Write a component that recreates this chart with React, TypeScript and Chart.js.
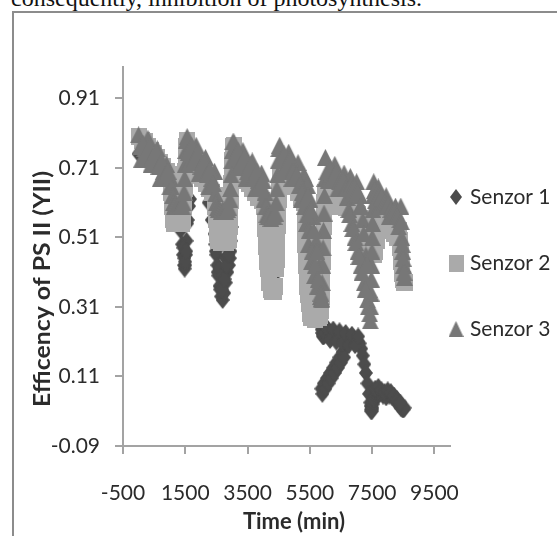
import React, { useEffect, useRef } from "react";
import { Chart, registerables } from "chart.js";

Chart.register(...registerables);

// ---------- data (time in minutes, efficiency of PS II) ----------
const times = [
  // day 1
  0, 100, 200, 300, 400, 500, 600, 700, 800, 900, 1000,
  1030, 1060, 1090, 1120, 1150, 1200, 1250, 1300, 1350, 1400, 1430, 1460, 1480, 1500, 1520, 1540,
  // day 2
  1560, 1650, 1750, 1850, 1950, 2050, 2150, 2250, 2350, 2440,
  2470, 2500, 2530, 2560, 2600, 2650, 2700, 2750, 2800, 2850, 2900, 2930, 2950, 2970, 2990, 3010, 3030,
  // day 3
  3060, 3150, 3250, 3350, 3450, 3550, 3650, 3750, 3850, 3950, 4030,
  4060, 4090, 4120, 4150, 4200, 4250, 4300, 4350, 4390, 4420, 4440, 4460, 4480, 4500,
  // day 4
  4530, 4620, 4720, 4820, 4920, 5020, 5120, 5220, 5300,
  5330, 5360, 5390, 5420, 5460, 5500, 5550, 5600, 5650, 5700, 5750, 5800, 5840, 5870,
  5880, 5895, 5910, 5925, 5940, 5955, 5970, 5985,
  // day 5
  6000, 6100, 6200, 6300, 6400, 6500, 6600, 6700,
  6750, 6800, 6850, 6900, 6950, 7000, 7050, 7100, 7150, 7200, 7250, 7300, 7350, 7400, 7440,
  7455, 7465, 7475, 7485, 7495, 7505, 7515, 7525, 7535,
  // day 6
  7550, 7600, 7650, 7700, 7750, 7850, 7950, 8050, 8150, 8250, 8350,
  8390, 8420, 8450, 8480, 8510, 8540,
];

const senzor1 = [
  0.75, 0.765, 0.77, 0.765, 0.755, 0.745, 0.735, 0.72, 0.71, 0.695, 0.68,
  0.66, 0.64, 0.62, 0.6, 0.585, 0.57, 0.56, 0.555, 0.53, 0.49, 0.46, 0.43, 0.42, 0.43, 0.46, 0.5,
  0.55, 0.62, 0.69, 0.72, 0.71, 0.69, 0.66, 0.61, 0.56, 0.52,
  0.49, 0.46, 0.43, 0.4, 0.37, 0.34, 0.33, 0.35, 0.38, 0.41, 0.43, 0.45, 0.47, 0.5, 0.54, 0.6, 0.66,
  0.72, 0.7, 0.695, 0.685, 0.67, 0.66, 0.645, 0.635, 0.62, 0.61, 0.6,
  0.58, 0.53, 0.48, 0.44, 0.4, 0.38, 0.375, 0.375, 0.385, 0.43, 0.48, 0.53, 0.58, 0.63,
  0.68, 0.7, 0.69, 0.68, 0.67, 0.655, 0.64, 0.625, 0.605,
  0.56, 0.5, 0.44, 0.38, 0.33, 0.3, 0.29, 0.29, 0.285, 0.29, 0.29, 0.285, 0.27, 0.255,
  0.245, 0.235, 0.23, 0.225, 0.225, 0.23, 0.23, 0.235,
  0.235, 0.24, 0.235, 0.23, 0.23, 0.225, 0.225, 0.22,
  0.215, 0.22, 0.215, 0.22, 0.215, 0.21, 0.21, 0.205, 0.19, 0.17, 0.145, 0.12, 0.09, 0.06, 0.035,
  0.025, 0.015, 0.01, 0.01, 0.015, 0.02, 0.03, 0.035, 0.04,
  0.045, 0.055, 0.06, 0.06, 0.06, 0.055, 0.05, 0.055, 0.05, 0.04, 0.03,
  0.025, 0.02, 0.02, 0.015, 0.015, 0.02,
];

const senzor2 = [
  0.8, 0.79, 0.785, 0.77, 0.76, 0.75, 0.74, 0.725, 0.715, 0.7, 0.69,
  0.66, 0.62, 0.585, 0.56, 0.55, 0.555, 0.55, 0.55, 0.555, 0.55, 0.56, 0.6, 0.65, 0.7, 0.75, 0.785,
  0.79, 0.725, 0.715, 0.705, 0.69, 0.68, 0.665, 0.65, 0.64, 0.63,
  0.6, 0.56, 0.52, 0.5, 0.5, 0.495, 0.5, 0.5, 0.495, 0.5, 0.505, 0.54, 0.59, 0.64, 0.69, 0.73, 0.77,
  0.775, 0.71, 0.7, 0.69, 0.675, 0.665, 0.65, 0.64, 0.625, 0.615, 0.6,
  0.56, 0.51, 0.46, 0.42, 0.38, 0.36, 0.355, 0.355, 0.37, 0.42, 0.47, 0.52, 0.57, 0.62,
  0.69, 0.7, 0.69, 0.68, 0.67, 0.655, 0.64, 0.625, 0.61,
  0.55, 0.49, 0.43, 0.37, 0.32, 0.29, 0.28, 0.28, 0.275, 0.28, 0.28, 0.28, 0.285, 0.3,
  0.34, 0.39, 0.44, 0.49, 0.54, 0.58, 0.61, 0.63,
  0.64, 0.635, 0.63, 0.625, 0.62, 0.615, 0.61, 0.605,
  0.6, 0.6, 0.595, 0.59, 0.585, 0.58, 0.575, 0.565, 0.555, 0.545, 0.53, 0.515, 0.5, 0.49, 0.48,
  0.475, 0.47, 0.47, 0.465, 0.465, 0.46, 0.46, 0.46, 0.46,
  0.46, 0.47, 0.5, 0.54, 0.57, 0.565, 0.56, 0.555, 0.55, 0.54, 0.53,
  0.5, 0.46, 0.42, 0.39, 0.38, 0.38,
];

const senzor3 = [
  0.805, 0.735, 0.765, 0.795, 0.72, 0.745, 0.765, 0.68, 0.7, 0.72, 0.655,
  0.68, 0.655, 0.63, 0.61, 0.6, 0.605, 0.6, 0.6, 0.605, 0.6, 0.61, 0.64, 0.68, 0.72, 0.76, 0.79,
  0.8, 0.725, 0.75, 0.775, 0.695, 0.715, 0.74, 0.655, 0.68, 0.7,
  0.635, 0.61, 0.595, 0.59, 0.59, 0.585, 0.59, 0.59, 0.585, 0.59, 0.595, 0.62, 0.65, 0.69, 0.73, 0.76, 0.785,
  0.785, 0.71, 0.735, 0.76, 0.68, 0.705, 0.73, 0.65, 0.675, 0.695, 0.62,
  0.64, 0.6, 0.575, 0.57, 0.57, 0.565, 0.57, 0.57, 0.58, 0.61, 0.65, 0.69, 0.73, 0.765,
  0.775, 0.7, 0.73, 0.755, 0.68, 0.705, 0.725, 0.62, 0.69,
  0.6, 0.68, 0.55, 0.66, 0.49, 0.62, 0.44, 0.57, 0.4, 0.5, 0.37, 0.43, 0.34, 0.335,
  0.33, 0.38, 0.43, 0.48, 0.53, 0.58, 0.63, 0.68,
  0.74, 0.675, 0.695, 0.72, 0.65, 0.67, 0.695, 0.625,
  0.59, 0.685, 0.55, 0.645, 0.51, 0.67, 0.47, 0.63, 0.43, 0.56, 0.38, 0.46, 0.33, 0.36, 0.27,
  0.31, 0.35, 0.39, 0.43, 0.47, 0.51, 0.55, 0.59, 0.63,
  0.67, 0.615, 0.635, 0.655, 0.6, 0.615, 0.63, 0.57, 0.585, 0.6, 0.54,
  0.56, 0.6, 0.51, 0.47, 0.43, 0.395,
];

// additional readings (the sensors logged more often than the main grid above)
const senzor1ExtraTimes = [
  5870, 5950, 6050, 6150, 6250, 6350, 6450, 6550,
  5900, 6000, 6100, 6200, 6300, 6400, 6500, 6600,
  6050, 6150, 6250, 6350, 6450, 6550, 6650, 6750, 6850, 6950, 7050,
  7600, 7700, 7800, 7900, 8000, 8100, 8200, 8300, 8400,
  1440, 1470, 1495, 1530, 1580, 1620,
  2480, 2540, 2600, 2620, 2680, 2700, 2760, 2800, 2830, 2880, 2940,
];
const senzor1ExtraValues = [
  0.075, 0.09, 0.105, 0.12, 0.135, 0.15, 0.165, 0.18,
  0.06, 0.075, 0.09, 0.105, 0.12, 0.135, 0.15, 0.165,
  0.25, 0.215, 0.245, 0.21, 0.24, 0.205, 0.235, 0.2, 0.23, 0.2, 0.225,
  0.075, 0.08, 0.07, 0.065, 0.07, 0.065, 0.055, 0.045, 0.035,
  0.48, 0.45, 0.44, 0.47, 0.56, 0.6,
  0.47, 0.41, 0.42, 0.36, 0.36, 0.4, 0.39, 0.45, 0.43, 0.46, 0.49,
];

const senzor2ExtraTimes = [
  1045, 1075, 1470, 1490, 1510, 1530,
  2485, 2515, 2940, 2960, 2980, 3000,
  4075, 4105, 4135, 4175, 4430, 4450, 4470, 4490, 4515,
  5345, 5375, 5405, 5440, 5888, 5903, 5918, 5933, 5948,
  6050, 6150, 6250, 6350, 6450, 6550, 6650,
  7800, 7900, 8000, 8100, 8200, 8300,
  8405, 8435, 8465,
];
const senzor2ExtraValues = [
  0.64, 0.6, 0.625, 0.675, 0.725, 0.77,
  0.58, 0.54, 0.565, 0.615, 0.665, 0.71,
  0.535, 0.485, 0.44, 0.4, 0.445, 0.495, 0.545, 0.595, 0.65,
  0.52, 0.46, 0.4, 0.345, 0.365, 0.415, 0.465, 0.515, 0.56,
  0.615, 0.635, 0.605, 0.625, 0.6, 0.615, 0.595,
  0.545, 0.54, 0.535, 0.53, 0.52, 0.51,
  0.48, 0.44, 0.405,
];

const senzor3ExtraTimes = [
  50, 150, 250, 350, 450, 550, 650, 750, 850, 950,
  1600, 1700, 1800, 1900, 2000, 2100, 2200, 2300, 2400,
  3100, 3200, 3300, 3400, 3500, 3600, 3700, 3800, 3900, 4000,
  4570, 4670, 4770, 4870, 4970, 5070, 5170, 5260,
  5345, 5405, 5440, 5480, 5525, 5575, 5625, 5675, 5725, 5775, 5855,
  6050, 6150, 6250, 6350, 6450, 6550, 6650,
  6775, 6825, 6875, 6925, 6975, 7025, 7075, 7125, 7175, 7225, 7275, 7325, 7375, 7420,
  7575, 7675, 7725, 7800, 7900, 8000, 8100, 8200, 8300,
  8435, 8465, 8495, 8525,
];
const senzor3ExtraValues = [
  0.77, 0.78, 0.75, 0.77, 0.74, 0.755, 0.715, 0.73, 0.69, 0.7,
  0.755, 0.775, 0.735, 0.755, 0.715, 0.73, 0.69, 0.705, 0.665,
  0.74, 0.76, 0.72, 0.74, 0.7, 0.72, 0.68, 0.7, 0.66, 0.675,
  0.735, 0.75, 0.715, 0.735, 0.7, 0.69, 0.66, 0.64,
  0.62, 0.575, 0.63, 0.53, 0.59, 0.47, 0.53, 0.43, 0.47, 0.39, 0.35,
  0.7, 0.71, 0.685, 0.695, 0.67, 0.675, 0.65,
  0.575, 0.66, 0.535, 0.655, 0.495, 0.64, 0.455, 0.6, 0.41, 0.52, 0.36, 0.43, 0.31, 0.29,
  0.645, 0.64, 0.63, 0.625, 0.61, 0.605, 0.59, 0.585, 0.57,
  0.555, 0.49, 0.45, 0.41,
];

const seriesLabels = ["Senzor 1", "Senzor 2", "Senzor 3"];
const seriesColors = ["#4c4c4c", "#aaaaaa", "#777777"];
const xTicks = [-500, 1500, 3500, 5500, 7500, 9500];
const yTicks = [-0.09, 0.11, 0.31, 0.51, 0.71, 0.91];
const xTitle = "Time (min)";
const yTitle = "Efficency of PS II (YII)";
const pageText = "consequently, inhibition of photosynthesis.";

function zip(ts: number[], vs: number[]) {
  return ts.map((t, i) => ({ x: t, y: vs[i] }));
}

function makeMarker(shape: string, w: number, h: number, color: string) {
  const c = document.createElement("canvas");
  c.width = w;
  c.height = h;
  const ctx = c.getContext("2d")!;
  ctx.fillStyle = color;
  ctx.beginPath();
  if (shape === "diamond") {
    ctx.moveTo(w / 2, 0);
    ctx.lineTo(w, h / 2);
    ctx.lineTo(w / 2, h);
    ctx.lineTo(0, h / 2);
  } else if (shape === "square") {
    ctx.rect(0, 0, w, h);
  } else {
    ctx.moveTo(w / 2, 0);
    ctx.lineTo(w, h);
    ctx.lineTo(0, h);
  }
  ctx.closePath();
  ctx.fill();
  return c;
}

export default function App() {
  const ref = useRef<HTMLCanvasElement>(null);

  useEffect(() => {
    const canvas = ref.current;
    if (!canvas) return;

    const markers = [
      makeMarker("diamond", 14, 18, seriesColors[0]),
      makeMarker("square", 16, 17, seriesColors[1]),
      makeMarker("triangle", 17, 17, seriesColors[2]),
    ];
    const legendMarkers = [
      makeMarker("diamond", 12, 16, seriesColors[0]),
      makeMarker("square", 15, 17, seriesColors[1]),
      makeMarker("triangle", 15, 16, seriesColors[2]),
    ];

    const s1 = zip(times, senzor1).concat(zip(senzor1ExtraTimes, senzor1ExtraValues));
    const s2 = zip(times, senzor2).concat(zip(senzor2ExtraTimes, senzor2ExtraValues));
    const s3 = zip(times, senzor3).concat(zip(senzor3ExtraTimes, senzor3ExtraValues));

    const textColor = "#2b2b2b";
    const axisColor = "#a3a3a3";

    const decor = {
      id: "decor",
      afterDraw(chart: any) {
        const ctx = chart.ctx as CanvasRenderingContext2D;
        const a = chart.chartArea;
        ctx.save();
        ctx.fillStyle = textColor;
        ctx.textBaseline = "middle";

        // x axis title
        ctx.font = "bold 22px Lato";
        ctx.textAlign = "center";
        ctx.fillText(xTitle, a.left + 171, a.bottom + 76);

        // y axis title (rotated)
        ctx.save();
        ctx.translate(a.left - 80, a.top + 222);
        ctx.rotate(-Math.PI / 2);
        const w = ctx.measureText(yTitle).width;
        ctx.scale(236 / w, 1);
        ctx.fillText(yTitle, 0, 0);
        ctx.restore();

        // legend
        ctx.font = "21px Lato";
        ctx.textAlign = "left";
        chart.data.datasets.forEach((ds: any, i: number) => {
          const cy = a.top + 130 + i * 66;
          const m = legendMarkers[i];
          ctx.drawImage(m, a.right + 6 - m.width / 2, cy - m.height / 2);
          ctx.fillStyle = textColor;
          ctx.fillText(ds.label, a.right + 20, cy);
        });
        ctx.restore();
      },
    };

    const tickFont = { family: "Lato", size: 21 };

    const chart = new Chart(canvas, {
      type: "scatter",
      data: {
        datasets: [
          { label: seriesLabels[0], data: s1, pointStyle: markers[0] as any, pointRadius: 7, backgroundColor: seriesColors[0], order: 3 },
          { label: seriesLabels[1], data: s2, pointStyle: markers[1] as any, pointRadius: 7, backgroundColor: seriesColors[1], order: 2 },
          { label: seriesLabels[2], data: s3, pointStyle: markers[2] as any, pointRadius: 7, backgroundColor: seriesColors[2], order: 1 },
        ],
      },
      options: {
        responsive: false,
        animation: false,
        devicePixelRatio: 1,
        events: [],
        layout: { padding: { left: 0, top: 54, right: 107, bottom: 0 } },
        plugins: { legend: { display: false }, tooltip: { enabled: false } },
        scales: {
          x: {
            type: "linear",
            min: -500,
            max: 10000,
            afterBuildTicks: (s: any) => {
              s.ticks = xTicks.map((v) => ({ value: v }));
            },
            afterFit: (s: any) => {
              s.height = 90;
            },
            ticks: {
              font: tickFont,
              color: textColor,
              padding: 27,
              maxRotation: 0,
              autoSkip: false,
              callback: (v: any) => String(v),
            },
            grid: { drawOnChartArea: false, drawTicks: true, tickLength: 8, color: axisColor, lineWidth: 2 },
            border: { display: true, color: axisColor, width: 2 },
          },
          y: {
            type: "linear",
            min: -0.09,
            max: 1.0,
            afterBuildTicks: (s: any) => {
              s.ticks = yTicks.map((v) => ({ value: v }));
            },
            afterFit: (s: any) => {
              s.width = 109;
            },
            ticks: {
              font: tickFont,
              color: textColor,
              padding: 15,
              autoSkip: false,
              callback: (v: any) => Number(v).toFixed(2),
            },
            grid: { drawOnChartArea: false, drawTicks: true, tickLength: 8, color: axisColor, lineWidth: 2 },
            border: { display: true, color: axisColor, width: 2 },
          },
        },
      } as any,
      plugins: [decor],
    });

    return () => chart.destroy();
  }, []);

  return (
    <div
      style={{
        position: "fixed",
        left: 0,
        top: 0,
        width: 557,
        height: 536,
        overflow: "hidden",
        background: "#ffffff",
      }}
    >
      <div
        style={{
          position: "absolute",
          left: 11,
          top: -14,
          font: "24px 'Liberation Serif'",
          lineHeight: "24px",
          whiteSpace: "nowrap",
          color: "#111",
        }}
      >
        {pageText}
      </div>
      <div
        style={{
          position: "absolute",
          left: 12,
          top: 11,
          width: 620,
          height: 620,
          borderLeft: "2px solid #8c8c8c",
          borderTop: "2px solid #8c8c8c",
        }}
      />
      <canvas
        ref={ref}
        width={543}
        height={523}
        style={{ position: "absolute", left: 14, top: 13, width: 543, height: 523 }}
      />
    </div>
  );
}
